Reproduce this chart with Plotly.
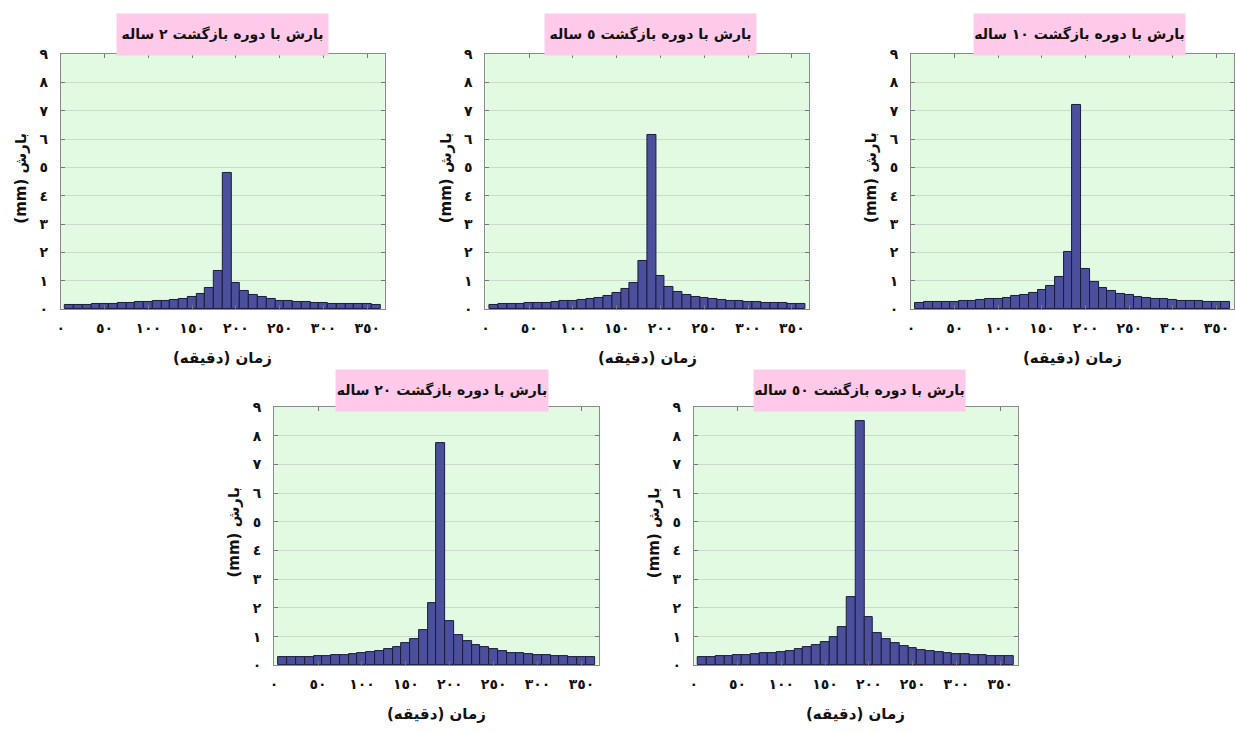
import plotly.graph_objects as go

# ---------------- data ----------------
time_min = [10, 20, 30, 40, 50, 60, 70, 80, 90, 100, 110, 120, 130, 140, 150, 160, 170, 180,
            190, 200, 210, 220, 230, 240, 250, 260, 270, 280, 290, 300, 310, 320, 330, 340, 350, 360]

rain_2yr = [0.16, 0.16, 0.16, 0.17, 0.19, 0.19, 0.21, 0.23, 0.25, 0.25, 0.29, 0.30, 0.34, 0.38,
            0.45, 0.55, 0.76, 1.34, 4.80, 0.94, 0.64, 0.50, 0.42, 0.37, 0.31, 0.30, 0.26, 0.25,
            0.23, 0.22, 0.19, 0.18, 0.18, 0.17, 0.17, 0.16]
rain_5yr = [0.16, 0.17, 0.17, 0.20, 0.21, 0.22, 0.23, 0.25, 0.28, 0.30, 0.32, 0.36, 0.41, 0.47,
            0.56, 0.72, 0.92, 1.69, 6.13, 1.18, 0.78, 0.61, 0.50, 0.44, 0.39, 0.36, 0.32, 0.30,
            0.28, 0.26, 0.24, 0.23, 0.22, 0.21, 0.20, 0.18]
rain_10yr = [0.23, 0.24, 0.25, 0.25, 0.27, 0.29, 0.31, 0.33, 0.35, 0.38, 0.41, 0.46, 0.51, 0.59,
             0.68, 0.83, 1.14, 2.01, 7.19, 1.43, 0.95, 0.75, 0.63, 0.55, 0.49, 0.45, 0.41, 0.38,
             0.35, 0.33, 0.31, 0.30, 0.29, 0.27, 0.26, 0.25]
rain_20yr = [0.27, 0.27, 0.28, 0.30, 0.32, 0.33, 0.34, 0.36, 0.39, 0.42, 0.46, 0.50, 0.57, 0.65,
             0.76, 0.90, 1.24, 2.16, 7.76, 1.54, 1.05, 0.83, 0.69, 0.62, 0.55, 0.49, 0.44, 0.41,
             0.39, 0.36, 0.34, 0.33, 0.32, 0.30, 0.28, 0.27]
rain_50yr = [0.30, 0.30, 0.32, 0.33, 0.35, 0.36, 0.39, 0.41, 0.43, 0.47, 0.50, 0.56, 0.62, 0.71,
             0.82, 0.99, 1.34, 2.37, 8.51, 1.67, 1.14, 0.90, 0.76, 0.66, 0.59, 0.54, 0.49, 0.46,
             0.42, 0.40, 0.38, 0.36, 0.34, 0.33, 0.32, 0.31]

titles = ["بارش با دوره بازگشت ٢ ساله", "بارش با دوره بازگشت ٥ ساله", "بارش با دوره بازگشت ١٠ ساله",
          "بارش با دوره بازگشت ٢٠ ساله", "بارش با دوره بازگشت ٥٠ ساله"]
series = [rain_2yr, rain_5yr, rain_10yr, rain_20yr, rain_50yr]

x_tick_vals = [0, 50, 100, 150, 200, 250, 300, 350]
x_tick_text = ["٠", "٥٠", "١٠٠", "١٥٠", "٢٠٠", "٢٥٠", "٣٠٠", "٣٥٠"]
y_tick_vals = [0, 1, 2, 3, 4, 5, 6, 7, 8, 9]
y_tick_text = ["٠", "١", "٢", "٣", "٤", "٥", "٦", "٧", "٨", "٩"]

x_title = "زمان (دقیقه)"
y_title = "(mm) بارش"

# ---------------- layout geometry (pixels) ----------------
W, H = 1236, 733
# plot area boxes: (left, right, top, bottom)
boxes = [(57, 382, 47, 308), (483, 808, 47, 308), (910, 1234, 47, 308),
         (271, 597, 408, 672), (692, 1017, 408, 672)]
# title boxes: (left, right, top, bottom)
title_boxes = [(114, 325, 7, 48), (543, 754, 7, 48), (973, 1184, 7, 48),
               (333, 545, 371, 412), (753, 964, 371, 412)]

FONT = "DejaVu Sans"
BG = "#e2f9e2"
PINK = "#ffc9e9"
BAR = "#4b4f9c"

fig = go.Figure()
annotations = []
layout = {}

for i, (vals, ttl) in enumerate(zip(series, titles)):
    n = "" if i == 0 else str(i + 1)
    xa, ya = "x" + n, "y" + n
    l, r, t, b = boxes[i]
    fig.add_trace(go.Bar(x=time_min, y=vals, width=10, xaxis=xa, yaxis=ya,
                         marker=dict(color=BAR, line=dict(color="#1c1c3c", width=1)),
                         showlegend=False, hoverinfo="x+y"))
    layout["xaxis" + n] = dict(domain=[l / W, r / W], range=[0, 370], anchor=ya,
                               tickvals=x_tick_vals, ticktext=x_tick_text,
                               ticks="inside", ticklen=4, tickcolor="#777",
                               showline=True, linecolor="#8a8a8a", linewidth=1, mirror="ticks",
                               showgrid=False, zeroline=False, fixedrange=True,
                               ticklabelstandoff=6,
                               tickfont=dict(family=FONT, size=14, color="#111", weight="bold"))
    layout["yaxis" + n] = dict(domain=[1 - b / H, 1 - t / H], range=[0, 9], anchor=xa,
                               tickvals=y_tick_vals, ticktext=y_tick_text,
                               ticks="inside", ticklen=4, tickcolor="#777",
                               showline=True, linecolor="#8a8a8a", linewidth=1, mirror="ticks",
                               showgrid=True, gridcolor="#c9dcc9", gridwidth=1,
                               zeroline=False, fixedrange=True,
                               ticklabelstandoff=9,
                               tickfont=dict(family=FONT, size=14, color="#111", weight="bold"))
    # pink title box
    tl, tr, tt, tb = title_boxes[i]
    annotations.append(dict(xref="paper", yref="paper", x=(tl + tr) / 2 / W, y=1 - (tt + tb) / 2 / H,
                            xanchor="center", yanchor="middle", showarrow=False,
                            text="<b>" + ttl + "</b>", bgcolor=PINK, borderpad=0,
                            width=tr - tl, height=tb - tt,
                            font=dict(family=FONT, size=14, color="#111")))
    # x axis title
    annotations.append(dict(xref="paper", yref="paper", x=(l + r) / 2 / W, y=1 - (b + 50) / H,
                            xanchor="center", yanchor="middle", showarrow=False,
                            text="<b>" + x_title + "</b>",
                            font=dict(family=FONT, size=15, color="#111")))
    # y axis title
    annotations.append(dict(xref="paper", yref="paper", x=(l - 40) / W, y=1 - ((t + b) / 2 - 4) / H,
                            xanchor="center", yanchor="middle", showarrow=False, textangle=-90,
                            text="<b>" + y_title + "</b>",
                            font=dict(family=FONT, size=15, color="#111")))

fig.update_layout(**layout)
fig.update_layout(width=W, height=H, margin=dict(l=0, r=0, t=0, b=0),
                  paper_bgcolor="white", plot_bgcolor=BG, bargap=0,
                  annotations=annotations, showlegend=False)

fig.write_html("out.html", config={"displayModeBar": False})
